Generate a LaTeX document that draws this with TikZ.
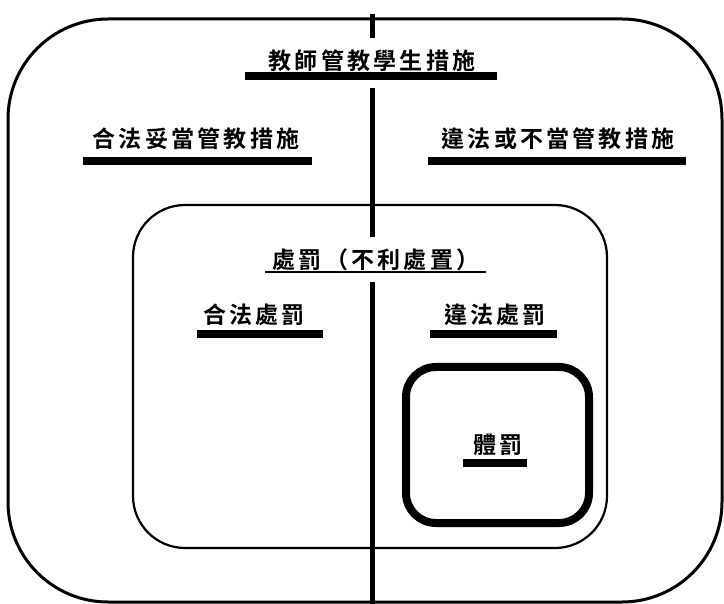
\documentclass[tikz,border=0pt]{standalone}
\usepackage{fontspec}
\newfontfamily\cjk{Noto Sans CJK TC Bold}[LetterSpace=14]
\usetikzlibrary{calc}
\begin{document}
\begin{tikzpicture}[x=1pt,y=-1pt,
  lbl/.style={inner sep=0pt, font=\cjk\fontsize{23}{27}\selectfont},
  bar/.style={fill=black},
  thinbar/.style={fill=black},
  gapbox/.style={fill=white},
  outerbox/.style={draw=black, line width=3pt, rounded corners=100pt},
  innerbox/.style={draw=black, line width=2.2pt, rounded corners=52pt},
  smallbox/.style={draw=black, line width=8pt, rounded corners=30pt},
  axis/.style={draw=black, line width=5.5pt}]
\useasboundingbox (0,0) rectangle (724,604);
% boxes
\draw[outerbox] (8,19) rectangle (722,602);
\draw[innerbox] (133,205) rectangle (607,548);
\draw[smallbox] (406,367) rectangle (589,523);
% vertical divider
\coordinate (vtop) at (372.5,14);
\coordinate (vbot) at (372.5,604);
\draw[axis] (vtop) -- (vbot);
\fill[gapbox] (360,38) rectangle (386,88);
\fill[gapbox] (360,237) rectangle (386,282);
% labels
\node[lbl] (t1) at (372,61) {教師管教學生措施};
\fill[bar] (245,72) rectangle (497,80);
\node[lbl] (l1) at (196,139) {合法妥當管教措施};
\fill[bar] (83,157) rectangle (312,165);
\node[lbl] (r1) at (558,139) {違法或不當管教措施};
\fill[bar] (428,157) rectangle (686,165);
\node[lbl] (t2) at (376,260) {處罰（不利處置）};
\fill[thinbar] (265,271) rectangle (486,273);
\node[lbl] (l2) at (254,315) {合法處罰};
\fill[bar] (197,330) rectangle (323,338);
\node[lbl] (r2) at (495,315) {違法處罰};
\fill[bar] (430,330) rectangle (557,338);
\node[lbl] (cp) at (498,445) {體罰};
\fill[bar] (463,459) rectangle (527,467);
\end{tikzpicture}
\end{document}
